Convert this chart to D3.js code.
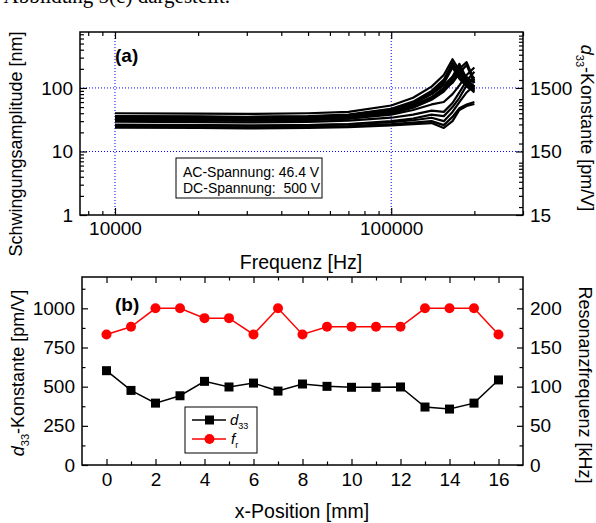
<!DOCTYPE html>
<html>
<head>
<meta charset="utf-8">
<script src="https://cdn.jsdelivr.net/npm/d3@7"></script>
<style>
  body { margin: 0; background: #fff; }
  text { font-family: "Liberation Sans", Arial, sans-serif; }
</style>
</head>
<body>
<svg id="fig" width="596" height="523"></svg>
<script>
// ---- panel (a): amplitude vs. frequency, one curve per x-position
const freqs = [10000, 20000, 30000, 50000, 70000, 100000, 120000, 140000, 155000, 166700, 176500, 187500, 200000];
const amp0  = [40.0, 39.5, 39.0, 40.0, 42.0, 53.0, 70.0, 105, 160, 283, 190, 150, 120];
const amp1  = [31.7, 31.0, 30.8, 31.5, 33.0, 40.0, 50.0, 68.0, 95.0, 140, 220, 130, 100];
const amp2  = [26.3, 26.0, 25.6, 26.0, 27.0, 30.0, 33.0, 38.0, 36.0, 50.0, 70.0, 110, 150];
const amp3  = [29.5, 29.0, 28.7, 29.2, 30.5, 34.0, 38.0, 44.0, 42.0, 58.0, 85.0, 130, 180];
const amp4  = [35.6, 35.0, 34.6, 35.5, 37.5, 46.0, 58.0, 80.0, 110, 150, 200, 255, 130];
const amp5  = [33.2, 32.7, 32.3, 33.0, 35.0, 42.0, 52.0, 70.0, 95.0, 120, 170, 230, 120];
const amp6  = [34.9, 34.3, 34.0, 34.8, 36.8, 45.0, 58.0, 85.0, 125, 230, 150, 110, 95.0];
const amp7  = [31.5, 31.0, 30.6, 31.2, 32.8, 38.0, 45.0, 55.0, 60.0, 80.0, 110, 160, 210];
const amp8  = [34.5, 34.0, 33.6, 34.3, 36.2, 44.0, 56.0, 80.0, 118, 210, 140, 105, 90.0];
const amp9  = [33.5, 33.0, 32.6, 33.3, 35.0, 42.0, 53.0, 72.0, 100, 150, 240, 140, 105];
const amp10 = [33.1, 32.5, 32.2, 32.9, 34.6, 41.0, 51.0, 69.0, 95.0, 140, 200, 125, 95.0];
const amp11 = [33.1, 32.6, 32.1, 32.8, 34.4, 40.5, 50.0, 67.0, 92.0, 130, 185, 120, 90.0];
const amp12 = [33.1, 32.4, 32.0, 32.7, 34.3, 40.0, 49.0, 65.0, 88.0, 125, 170, 110, 85.0];
const amp13 = [24.7, 24.3, 24.0, 24.4, 25.2, 27.0, 28.5, 30.0, 26.0, 35.0, 48.0, 55.0, 60.0];
const amp14 = [23.8, 23.4, 23.1, 23.5, 24.2, 25.8, 27.0, 28.0, 23.5, 30.0, 45.0, 52.0, 56.0];
const amp15 = [26.3, 25.9, 25.5, 26.0, 26.8, 29.0, 31.0, 34.0, 30.0, 42.0, 60.0, 85.0, 110];
const amp16 = [36.2, 35.6, 35.2, 36.0, 38.0, 47.0, 61.0, 90.0, 135, 250, 165, 125, 105];
const amps = [amp0, amp1, amp2, amp3, amp4, amp5, amp6, amp7, amp8, amp9, amp10, amp11, amp12, amp13, amp14, amp15, amp16];

const ampMajor = [1, 10, 100];
const d33Major = [15, 150, 1500];
const freqMajor = [10000, 100000];
const freqMinor = [8000, 9000, 20000, 30000, 40000, 50000, 60000, 70000, 80000, 90000, 200000, 300000];
const ampMinor = [2, 3, 4, 5, 6, 7, 8, 9, 20, 30, 40, 50, 60, 70, 80, 90, 200, 300, 400, 500, 600, 700];

// ---- panel (b): d33 and resonance frequency vs. x-position
const positions = [0, 1, 2, 3, 4, 5, 6, 7, 8, 9, 10, 11, 12, 13, 14, 15, 16];
const d33 = [602, 476, 395, 442, 534, 498, 523, 472, 517, 502, 496, 496, 498, 370, 357, 395, 543];
const fres = [166.7, 176.5, 200, 200, 187.5, 187.5, 166.7, 200, 166.7, 176.5, 176.5, 176.5, 176.5, 200, 200, 200, 166.7];
const posMajor = [0, 2, 4, 6, 8, 10, 12, 14, 16];
const posMinor = [1, 3, 5, 7, 9, 11, 13, 15];
const d33Ticks = [0, 250, 500, 750, 1000];
const d33Minor = [125, 375, 625, 875, 1125];
const fresTicks = [0, 50, 100, 150, 200];
const fresMinor = [25, 75, 125, 175, 225];

const svg = d3.select("#fig");
const FS = "18px";      // vertical titles
const FST = "19px";     // tick labels
const FSX = "19.5px";   // horizontal axis titles

// text from the page above the figure, cut off at the top
svg.append("text")
    .attr("x", 230).attr("y", 3)
    .attr("text-anchor", "end")
    .style("font-family", "'Liberation Serif', serif")
    .style("font-size", "21px")
    .text("Abbildung 5(c) dargestellt.");

function styleAxis(g, labels) {
    g.select(".domain").remove();
    g.selectAll("line").attr("stroke", "#000").attr("stroke-width", 1.2);
    g.attr("font-family", null).attr("font-size", null);
    g.selectAll("text").style("font-size", FST).attr("fill", "#000");
    if (!labels) g.selectAll("text").remove();
}

function frame(x0, y0, x1, y1) {
    svg.append("rect")
        .attr("x", x0).attr("y", y0)
        .attr("width", x1 - x0).attr("height", y1 - y0)
        .attr("fill", "none").attr("stroke", "#000").attr("stroke-width", 1.5);
}

// ================= panel (a) =================
const aL = 80, aR = 523, aT = 32, aB = 215;
const xa = d3.scaleLog().domain([7470, 300000]).range([aL, aR]);
const ya = d3.scaleLog().domain([1, 760]).range([aB, aT]);
const ya2 = d3.scaleLog().domain([15, 11400]).range([aB, aT]);

svg.append("clipPath").attr("id", "clipA")
  .append("rect").attr("x", aL).attr("y", aT).attr("width", aR - aL).attr("height", aB - aT);

const gridA = svg.append("g")
    .attr("stroke", "#0000ff").attr("stroke-width", 1).attr("stroke-dasharray", "1,2");
gridA.selectAll("line.gx").data(freqMajor).enter().append("line")
    .attr("x1", d => xa(d)).attr("x2", d => xa(d)).attr("y1", aT).attr("y2", aB);
gridA.selectAll("line.gy").data([10, 100]).enter().append("line")
    .attr("y1", d => ya(d)).attr("y2", d => ya(d)).attr("x1", aL).attr("x2", aR);

const lineA = d3.line()
    .x((d, i) => xa(freqs[i]))
    .y(d => ya(d));

svg.append("g").attr("clip-path", "url(#clipA)")
  .selectAll("path").data(amps).enter().append("path")
    .attr("d", lineA)
    .attr("fill", "none")
    .attr("stroke", "#000")
    .attr("stroke-width", 2.2)
    .attr("stroke-linejoin", "round");

// axes (ticks pointing inwards)
svg.append("g").attr("transform", `translate(0,${aB})`)
    .call(d3.axisBottom(xa).tickValues(freqMajor).tickFormat(d3.format("d")).tickSize(-7).tickPadding(7))
    .call(g => styleAxis(g, true));
svg.append("g").attr("transform", `translate(0,${aB})`)
    .call(d3.axisBottom(xa).tickValues(freqMinor).tickSize(-4))
    .call(g => styleAxis(g, false));
svg.append("g").attr("transform", `translate(0,${aT})`)
    .call(d3.axisTop(xa).tickValues(freqMajor).tickSize(-7))
    .call(g => styleAxis(g, false));
svg.append("g").attr("transform", `translate(0,${aT})`)
    .call(d3.axisTop(xa).tickValues(freqMinor).tickSize(-4))
    .call(g => styleAxis(g, false));
svg.append("g").attr("transform", `translate(${aL},0)`)
    .call(d3.axisLeft(ya).tickValues(ampMajor).tickFormat(d3.format("d")).tickSize(-7).tickPadding(7))
    .call(g => styleAxis(g, true));
svg.append("g").attr("transform", `translate(${aL},0)`)
    .call(d3.axisLeft(ya).tickValues(ampMinor).tickSize(-4))
    .call(g => styleAxis(g, false));
svg.append("g").attr("transform", `translate(${aR},0)`)
    .call(d3.axisRight(ya2).tickValues(d33Major).tickFormat(d3.format("d")).tickSize(-7).tickPadding(7))
    .call(g => styleAxis(g, true));
svg.append("g").attr("transform", `translate(${aR},0)`)
    .call(d3.axisRight(ya2).tickValues(ya2.ticks()).tickSize(-4))
    .call(g => styleAxis(g, false));

frame(aL, aT, aR, aB);

svg.append("text").attr("x", 115).attr("y", 62)
    .style("font-size", "19px").style("font-weight", "bold").text("(a)");

// info box
svg.append("rect").attr("x", 176).attr("y", 158).attr("width", 146).attr("height", 40)
    .attr("fill", "#fff").attr("stroke", "#000").attr("stroke-width", 1);
svg.append("text").attr("x", 183).attr("y", 177).style("font-size", "14px")
    .text("AC-Spannung: 46.4 V");
svg.append("text").attr("x", 183).attr("y", 193).style("font-size", "14px")
    .attr("xml:space", "preserve").style("white-space", "pre")
    .text("DC-Spannung:  500 V");

// titles
svg.append("text").attr("x", 301).attr("y", 269).attr("text-anchor", "middle")
    .style("font-size", FSX).text("Frequenz [Hz]");
svg.append("text").attr("transform", "translate(22,144) rotate(-90)").attr("text-anchor", "middle")
    .style("font-size", FS).text("Schwingungsamplitude [nm]");
const rtA = svg.append("text").attr("transform", "translate(581,128) rotate(90)")
    .attr("text-anchor", "middle").style("font-size", FS);
rtA.append("tspan").style("font-style", "italic").text("d");
rtA.append("tspan").attr("dy", 5).style("font-size", "11px").text("33");
rtA.append("tspan").attr("dy", -5).text("-Konstante [pm/V]");

// ================= panel (b) =================
const bL = 82, bR = 523, bT = 277, bB = 465;
const xb = d3.scaleLinear().domain([-1, 17]).range([bL, bR]);
const yb = d3.scaleLinear().domain([0, 1200]).range([bB, bT]);
const yb2 = d3.scaleLinear().domain([0, 240]).range([bB, bT]);

svg.append("g").attr("transform", `translate(0,${bB})`)
    .call(d3.axisBottom(xb).tickValues(posMajor).tickFormat(d3.format("d")).tickSize(-6).tickPadding(8))
    .call(g => styleAxis(g, true));
svg.append("g").attr("transform", `translate(0,${bB})`)
    .call(d3.axisBottom(xb).tickValues(posMinor).tickSize(-3.5))
    .call(g => styleAxis(g, false));
svg.append("g").attr("transform", `translate(0,${bT})`)
    .call(d3.axisTop(xb).tickValues(posMajor).tickSize(-6))
    .call(g => styleAxis(g, false));
svg.append("g").attr("transform", `translate(0,${bT})`)
    .call(d3.axisTop(xb).tickValues(posMinor).tickSize(-3.5))
    .call(g => styleAxis(g, false));
svg.append("g").attr("transform", `translate(${bL},0)`)
    .call(d3.axisLeft(yb).tickValues(d33Ticks).tickFormat(d3.format("d")).tickSize(-6).tickPadding(7))
    .call(g => styleAxis(g, true));
svg.append("g").attr("transform", `translate(${bL},0)`)
    .call(d3.axisLeft(yb).tickValues(d33Minor).tickSize(-3.5))
    .call(g => styleAxis(g, false));
svg.append("g").attr("transform", `translate(${bR},0)`)
    .call(d3.axisRight(yb2).tickValues(fresTicks).tickFormat(d3.format("d")).tickSize(-6).tickPadding(7))
    .call(g => styleAxis(g, true));
svg.append("g").attr("transform", `translate(${bR},0)`)
    .call(d3.axisRight(yb2).tickValues(fresMinor).tickSize(-3.5))
    .call(g => styleAxis(g, false));

frame(bL, bT, bR, bB);

// fr series (red circles)
svg.append("path").datum(fres)
    .attr("d", d3.line().x((d, i) => xb(positions[i])).y(d => yb2(d)))
    .attr("fill", "none").attr("stroke", "#ff0000").attr("stroke-width", 1.5);
svg.selectAll("circle.fr").data(fres).enter().append("circle")
    .attr("cx", (d, i) => xb(positions[i])).attr("cy", d => yb2(d))
    .attr("r", 5).attr("fill", "#ff0000");

// d33 series (black squares)
svg.append("path").datum(d33)
    .attr("d", d3.line().x((d, i) => xb(positions[i])).y(d => yb(d)))
    .attr("fill", "none").attr("stroke", "#000").attr("stroke-width", 1.5);
svg.selectAll("rect.d33").data(d33).enter().append("rect")
    .attr("x", (d, i) => xb(positions[i]) - 4.5).attr("y", d => yb(d) - 4.5)
    .attr("width", 9).attr("height", 9).attr("fill", "#000");

svg.append("text").attr("x", 115).attr("y", 311)
    .style("font-size", "19px").style("font-weight", "bold").text("(b)");

// legend
svg.append("rect").attr("x", 185).attr("y", 407).attr("width", 72).attr("height", 46)
    .attr("fill", "#fff").attr("stroke", "#000").attr("stroke-width", 1);
svg.append("line").attr("x1", 192).attr("x2", 226).attr("y1", 420).attr("y2", 420)
    .attr("stroke", "#000").attr("stroke-width", 1.5);
svg.append("rect").attr("x", 205).attr("y", 415.5).attr("width", 9).attr("height", 9).attr("fill", "#000");
svg.append("line").attr("x1", 192).attr("x2", 226).attr("y1", 439).attr("y2", 439)
    .attr("stroke", "#ff0000").attr("stroke-width", 1.5);
svg.append("circle").attr("cx", 209.5).attr("cy", 439).attr("r", 5).attr("fill", "#ff0000");
const lg1 = svg.append("text").attr("x", 230).attr("y", 425).style("font-size", "15px");
lg1.append("tspan").style("font-style", "italic").text("d");
lg1.append("tspan").attr("dy", 4).style("font-size", "9px").text("33");
const lg2 = svg.append("text").attr("x", 231).attr("y", 444).style("font-size", "15px");
lg2.append("tspan").style("font-style", "italic").text("f");
lg2.append("tspan").attr("dy", 4).style("font-size", "9px").text("r");

// titles
svg.append("text").attr("x", 302).attr("y", 518).attr("text-anchor", "middle")
    .style("font-size", FSX).text("x-Position [mm]");
const ltB = svg.append("text").attr("transform", "translate(24,373) rotate(-90)")
    .attr("text-anchor", "middle").style("font-size", FS);
ltB.append("tspan").style("font-style", "italic").text("d");
ltB.append("tspan").attr("dy", 5).style("font-size", "11px").text("33");
ltB.append("tspan").attr("dy", -5).text("-Konstante [pm/V]");
svg.append("text").attr("transform", "translate(579,385) rotate(90)").attr("text-anchor", "middle")
    .style("font-size", FS).text("Resonanzfrequenz [kHz]");
</script>
</body>
</html>
